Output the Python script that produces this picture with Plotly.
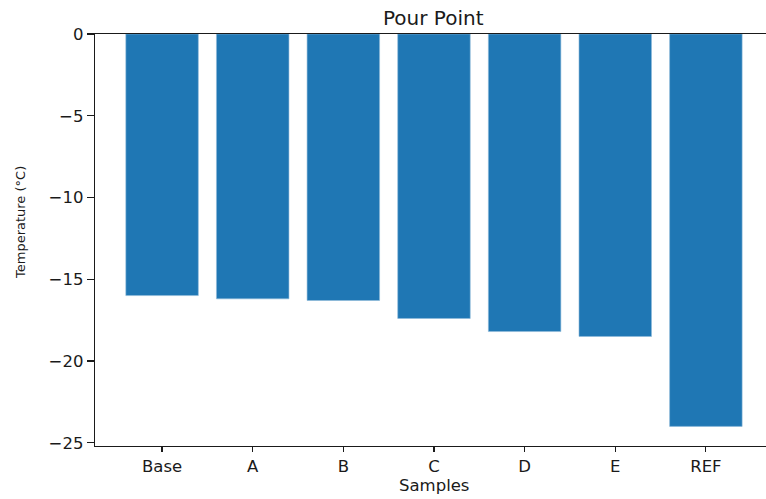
import plotly.graph_objects as go

samples = ["Base", "A", "B", "C", "D", "E", "REF"]
pour_point = [-16.0, -16.2, -16.3, -17.4, -18.2, -18.5, -24.0]
y_ticks = [0, -5, -10, -15, -20, -25]
y_tick_text = ["0", "\u22125", "\u221210", "\u221215", "\u221220", "\u221225"]

W, H = 766, 499
L, R, T, B = 95, 0, 34, 499 - 446
pw, ph = W - L - R, H - T - B


def px_x(xp):
    return (xp - L) / pw


def px_y(yp):
    return (H - B - yp) / ph


fig = go.Figure(go.Bar(
    x=samples, y=pour_point,
    marker=dict(color="#1f77b4", line=dict(color="#8fbbda", width=0.6)),
    width=0.8,
))

font = "DejaVu Sans"
col = "#1a1a1a"
fig.update_layout(
    width=W, height=H,
    margin=dict(l=L, r=R, t=T, b=B),
    paper_bgcolor="white", plot_bgcolor="white",
    showlegend=False,
    font=dict(family=font, color=col),
    annotations=[
        dict(text="Pour Point", xref="paper", yref="paper",
             x=px_x(433.5), y=px_y(17.5), showarrow=False,
             font=dict(size=20, family=font, color=col), xanchor="center", yanchor="middle"),
        dict(text="Samples", xref="paper", yref="paper",
             x=px_x(433.5), y=px_y(485), showarrow=False,
             font=dict(size=16.5, family=font, color=col), xanchor="center", yanchor="middle"),
        dict(text="Temperature (°C)", xref="paper", yref="paper", textangle=-90,
             x=px_x(20), y=px_y(223), showarrow=False,
             font=dict(size=13, family=font, color=col), xanchor="center", yanchor="middle"),
    ],
)
fig.update_xaxes(
    type="category", range=[-0.74, (W - 162.3) / 90.6],
    showline=True, linecolor=col, linewidth=1.3, mirror=True,
    ticks="outside", ticklen=5, tickcolor=col, tickwidth=1.2,
    tickfont=dict(size=16.5, family=font, color=col),
    showgrid=False, zeroline=False,
)
fig.update_yaxes(
    range=[-25.2, 0],
    tickvals=y_ticks, ticktext=y_tick_text,
    showline=True, linecolor=col, linewidth=1.3, mirror=False,
    ticks="outside", ticklen=7, tickcolor=col, tickwidth=1.2,
    tickfont=dict(size=16.5, family=font, color=col),
    showgrid=False, zeroline=False,
)

fig.write_html(
    "out.html",
    config={"displayModeBar": False, "staticPlot": True},
    post_script="document.body.style.margin='0';document.body.style.overflow='hidden';",
)
